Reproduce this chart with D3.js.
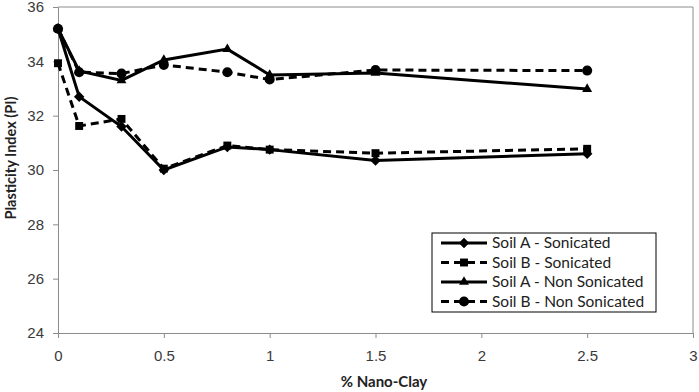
<!DOCTYPE html>
<html>
<head>
<meta charset="utf-8">
<script src="https://cdn.jsdelivr.net/npm/d3@7"></script>
<style>
  body { margin: 0; background: #fff; }
  svg { font-family: Lato, "Open Sans", sans-serif; }
</style>
</head>
<body>
<svg id="canvas"></svg>
<script>
let nanoClay = [0, 0.1, 0.3, 0.5, 0.8, 1, 1.5, 2.5];
let soilASonicated = [35.2, 32.7, 31.6, 30.0, 30.85, 30.75, 30.35, 30.6];
let soilBSonicated = [33.93, 31.62, 31.88, 30.05, 30.9, 30.75, 30.62, 30.78];
let soilANonSonicated = [35.2, 33.65, 33.3, 34.05, 34.45, 33.5, 33.57, 32.98];
let soilBNonSonicated = [35.2, 33.6, 33.55, 33.87, 33.6, 33.33, 33.68, 33.66];
let seriesNames = ['Soil A - Sonicated', 'Soil B - Sonicated', 'Soil A - Non Sonicated', 'Soil B - Non Sonicated'];
let xTicks = [0, 0.5, 1, 1.5, 2, 2.5, 3];
let yTicks = [24, 26, 28, 30, 32, 34, 36];

let width = 699;
let height = 392;
let padLeft = 58, padRight = 693, padTop = 7, padBottom = 333;

let series = [
  { name: seriesNames[0], values: soilASonicated, dashed: false, symbol: d3.symbolDiamond2 },
  { name: seriesNames[1], values: soilBSonicated, dashed: true, symbol: d3.symbolSquare2 },
  { name: seriesNames[2], values: soilANonSonicated, dashed: false, symbol: d3.symbolTriangle2 },
  { name: seriesNames[3], values: soilBNonSonicated, dashed: true, symbol: d3.symbolCircle }
];
let symbolSize = { 0: 70, 1: 80, 2: 70, 3: 80 };

let canvas = d3.select('#canvas').attr('width', width).attr('height', height);

let xScale = d3.scaleLinear().domain([0, 3]).range([padLeft, padRight]);
let yScale = d3.scaleLinear().domain([24, 36]).range([padBottom, padTop]);

// plot frame (top and right)
canvas.append('path')
  .attr('d', `M${padLeft},${padTop}H${padRight}V${padBottom}`)
  .attr('fill', 'none')
  .attr('stroke', '#8c8c8c')
  .attr('stroke-width', 1);

let xAxis = d3.axisBottom(xScale).tickValues(xTicks).tickSize(5).tickSizeOuter(0)
  .tickFormat(d => String(d));
let gx = canvas.append('g')
  .attr('transform', 'translate(0,' + padBottom + ')')
  .call(xAxis);
gx.selectAll('text').attr('y', 28).attr('dy', 0);

let yAxis = d3.axisLeft(yScale).tickValues(yTicks).tickSize(5).tickSizeOuter(0);
let gy = canvas.append('g')
  .attr('transform', 'translate(' + padLeft + ',0)')
  .call(yAxis);
gy.selectAll('text').attr('x', -14);

[gx, gy].forEach(g => {
  g.selectAll('path, line').attr('stroke', '#8c8c8c');
  g.selectAll('text').attr('fill', '#3a3a3a').style('font-size', '15px');
});

canvas.append('text')
  .attr('x', 384)
  .attr('y', 387)
  .attr('text-anchor', 'middle')
  .style('font-size', '15px')
  .style('font-weight', 'bold')
  .attr('fill', '#222')
  .text('% Nano-Clay');

canvas.append('text')
  .attr('transform', 'translate(16,158) rotate(-90)')
  .attr('text-anchor', 'middle')
  .style('font-size', '14.5px')
  .style('font-weight', 'bold')
  .attr('fill', '#222')
  .text('Plasticity Index (PI)');

let line = d3.line()
  .x((d, i) => xScale(nanoClay[i]))
  .y(d => yScale(d));

series.forEach((s, k) => {
  canvas.append('path')
    .attr('d', line(s.values))
    .attr('fill', 'none')
    .attr('stroke', '#000')
    .attr('stroke-width', 3)
    .attr('stroke-dasharray', s.dashed ? '8,5' : null);
  canvas.append('g').selectAll('path')
    .data(s.values)
    .enter()
    .append('path')
    .attr('transform', (d, i) => 'translate(' + xScale(nanoClay[i]) + ',' + yScale(d) + ')')
    .attr('d', d3.symbol().type(s.symbol).size(symbolSize[k]))
    .attr('fill', '#000');
});

// legend
let legend = canvas.append('g').attr('transform', 'translate(432,233)');
legend.append('rect')
  .attr('width', 224).attr('height', 79)
  .attr('fill', '#fff').attr('stroke', '#000').attr('stroke-width', 1);
series.forEach((s, k) => {
  let yy = 10 + k * 19.5;
  legend.append('line')
    .attr('x1', 9).attr('x2', 55).attr('y1', yy).attr('y2', yy)
    .attr('stroke', '#000').attr('stroke-width', 3)
    .attr('stroke-dasharray', s.dashed ? '8,5' : null);
  legend.append('path')
    .attr('transform', 'translate(32,' + yy + ')')
    .attr('d', d3.symbol().type(s.symbol).size(symbolSize[k]))
    .attr('fill', '#000');
  legend.append('text')
    .attr('x', 60).attr('y', yy)
    .attr('dy', '0.35em')
    .style('font-size', '15.5px')
    .attr('fill', '#222')
    .text(s.name);
});
</script>
</body>
</html>
